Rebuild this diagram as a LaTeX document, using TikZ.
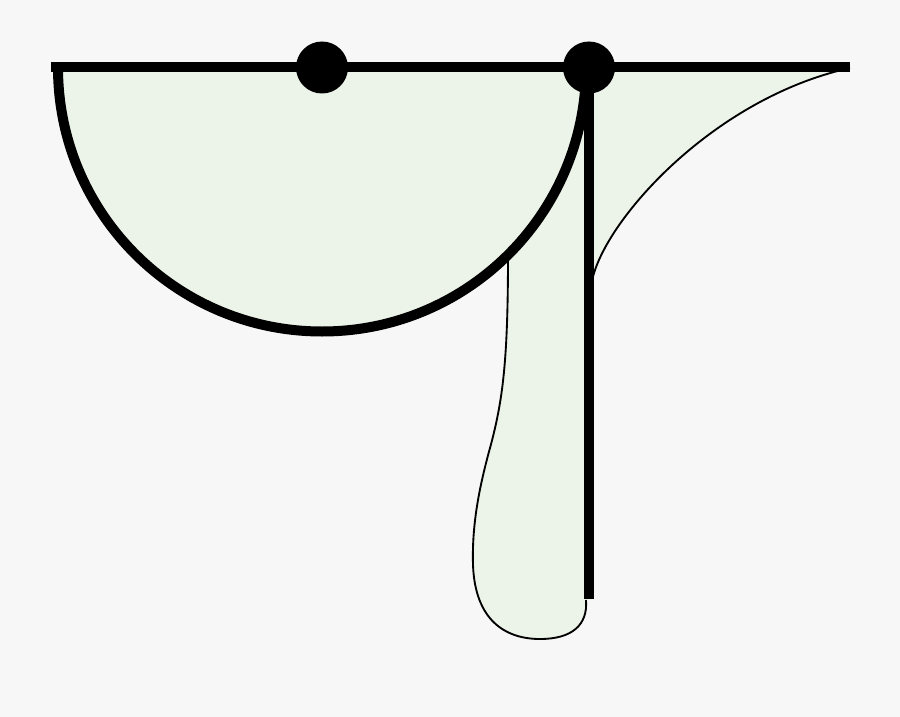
\documentclass[tikz,border=0pt]{standalone}
\definecolor{bg}{RGB}{247,247,247}
\definecolor{leaf}{RGB}{236,244,233}
\tikzset{
  thick line/.style={line width=7.5pt, line cap=butt},
  thin line/.style={line width=1.4pt},
  dot/.style={circle, fill=black, minimum size=39pt, inner sep=0pt},
}
\begin{document}
\begin{tikzpicture}[x=0.75pt,y=-0.75pt]
\fill[bg] (0,0) rectangle (900,717);
\useasboundingbox (0,0) rectangle (900,717);
% coordinates
\coordinate (tl) at (51,67.5);
\coordinate (tr) at (850,67.5);
\coordinate (ctop) at (589,67.5);
\coordinate (cbot) at (589,599);
\coordinate (cmeet) at (591,290);
\coordinate (dtop) at (508,255);
% green fill of the side regions
\fill[leaf] (850,68) .. controls (705,100) and (592,235) .. (cmeet)
  -- (591,600) -- (586,600)
  .. controls (588,625) and (572,639) .. (540,639)
  .. controls (505,639) and (475,620) .. (473,565)
  .. controls (472,530) and (477,495) .. (490,448)
  .. controls (503,400) and (508,360) .. (dtop)
  -- (ctop) -- cycle;
% thin outlines
\draw[thin line] (850,68) .. controls (705,100) and (592,235) .. (cmeet);
\draw[thin line] (586,600)
  .. controls (588,625) and (572,639) .. (540,639)
  .. controls (505,639) and (475,620) .. (473,565)
  .. controls (472,530) and (477,495) .. (490,448)
  .. controls (503,400) and (508,360) .. (dtop);
% semicircle
\fill[leaf] (58,67.5) arc[start angle=180, end angle=0, radius=264] -- cycle;
\draw[thick line] (58,67.5) arc[start angle=180, end angle=0, radius=264];
% horizontal and vertical lines
\draw[thick line] (tl) -- (tr);
\draw[thick line] (ctop) -- (cbot);
% dots
\node[dot] (d1) at (322,67.5) {};
\node[dot] (d2) at (589,67.5) {};
\end{tikzpicture}
\end{document}
